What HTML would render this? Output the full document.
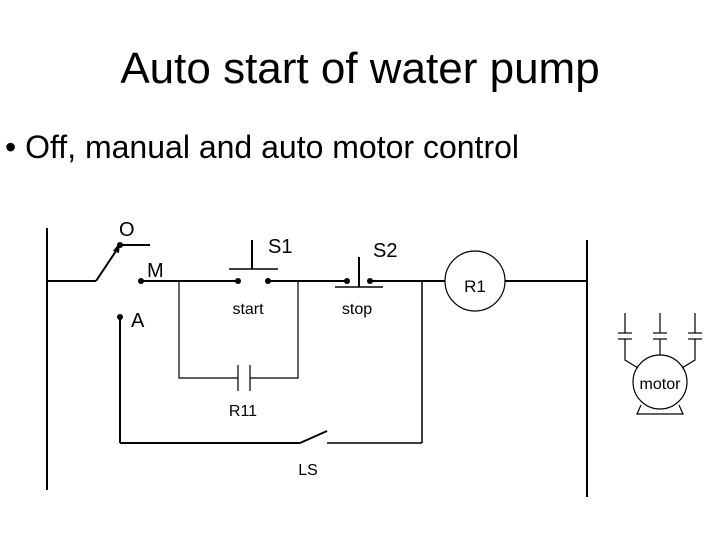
<!DOCTYPE html>
<html><head><style>
body{margin:0;width:720px;height:540px;background:#fff;overflow:hidden}
svg{display:block}
text{font-family:"Liberation Sans",Arial,sans-serif;fill:#000}
</style></head><body>
<svg width="720" height="540" viewBox="0 0 720 540">
<text x="360" y="83" font-size="44" text-anchor="middle">Auto start of water pump</text>
<text x="5" y="158" font-size="32">• Off, manual and auto motor control</text>
<g stroke="#000" stroke-width="2" fill="none">
<line x1="47" y1="228" x2="47" y2="490"/>
<line x1="587" y1="240" x2="587" y2="497"/>
<line x1="47" y1="281" x2="96" y2="281"/>
<line x1="96" y1="281" x2="118" y2="248"/>
<line x1="120" y1="245" x2="150" y2="245"/>
<line x1="141" y1="281" x2="238" y2="281"/>
<line x1="252" y1="240" x2="252" y2="269"/>
<line x1="229" y1="269" x2="278" y2="269" stroke-width="1.5"/>
<line x1="268" y1="281" x2="347" y2="281"/>
<line x1="359" y1="257" x2="359" y2="287"/>
<line x1="335" y1="287" x2="383" y2="287" stroke-width="1.5"/>
<line x1="370" y1="281" x2="445" y2="281"/>
<line x1="505" y1="281" x2="587" y2="281"/>
<line x1="120" y1="317" x2="120" y2="443"/>
<line x1="120" y1="443" x2="300" y2="443"/>
<line x1="300" y1="443" x2="327" y2="431"/>
<line x1="327" y1="443" x2="422" y2="443" stroke-width="1.5"/>
<line x1="422" y1="443" x2="422" y2="281" stroke-width="1.5"/>
</g>
<polygon points="120,242 113,251 119,253" fill="#000"/>
<g fill="#000">
<circle cx="120" cy="245" r="3"/><circle cx="141" cy="281" r="3"/><circle cx="120" cy="317" r="3"/>
<circle cx="238" cy="281" r="3"/><circle cx="268" cy="281" r="3"/>
<circle cx="347" cy="281" r="3"/><circle cx="370" cy="281" r="3"/>
</g>
<g stroke="#000" stroke-width="1.2" fill="none">
<polyline points="238,378 179,378 179,281"/>
<polyline points="250,378 298,378 298,281"/>
<line x1="238" y1="365" x2="238" y2="391"/>
<line x1="250" y1="365" x2="250" y2="391"/>
<circle cx="475" cy="281" r="30"/>
<line x1="625" y1="313" x2="625" y2="333"/><line x1="618" y1="333" x2="632" y2="333"/><line x1="618" y1="339" x2="632" y2="339"/><polyline points="625,339 625,360 638,368"/>
<line x1="660" y1="313" x2="660" y2="333"/><line x1="653" y1="333" x2="667" y2="333"/><line x1="653" y1="339" x2="667" y2="339"/><line x1="660" y1="339" x2="660" y2="355"/>
<line x1="695" y1="313" x2="695" y2="333"/><line x1="688" y1="333" x2="702" y2="333"/><line x1="688" y1="339" x2="702" y2="339"/><polyline points="695,339 695,360 682,368"/>
<circle cx="660" cy="382" r="27"/>
<polyline points="641,405 637,414 683,414 679,405"/>
</g>
<text x="119" y="236" font-size="20">O</text>
<text x="147" y="277" font-size="20">M</text>
<text x="131" y="327" font-size="20">A</text>
<text x="268" y="253" font-size="20">S1</text>
<text x="373" y="257" font-size="20">S2</text>
<text x="248" y="314" font-size="16" text-anchor="middle">start</text>
<text x="357" y="314" font-size="16" text-anchor="middle">stop</text>
<text x="475" y="292" font-size="17" text-anchor="middle">R1</text>
<text x="243" y="416" font-size="16" text-anchor="middle">R11</text>
<text x="308" y="475" font-size="16" text-anchor="middle">LS</text>
<text x="660" y="389" font-size="16" text-anchor="middle">motor</text>
</svg>
</body></html>
